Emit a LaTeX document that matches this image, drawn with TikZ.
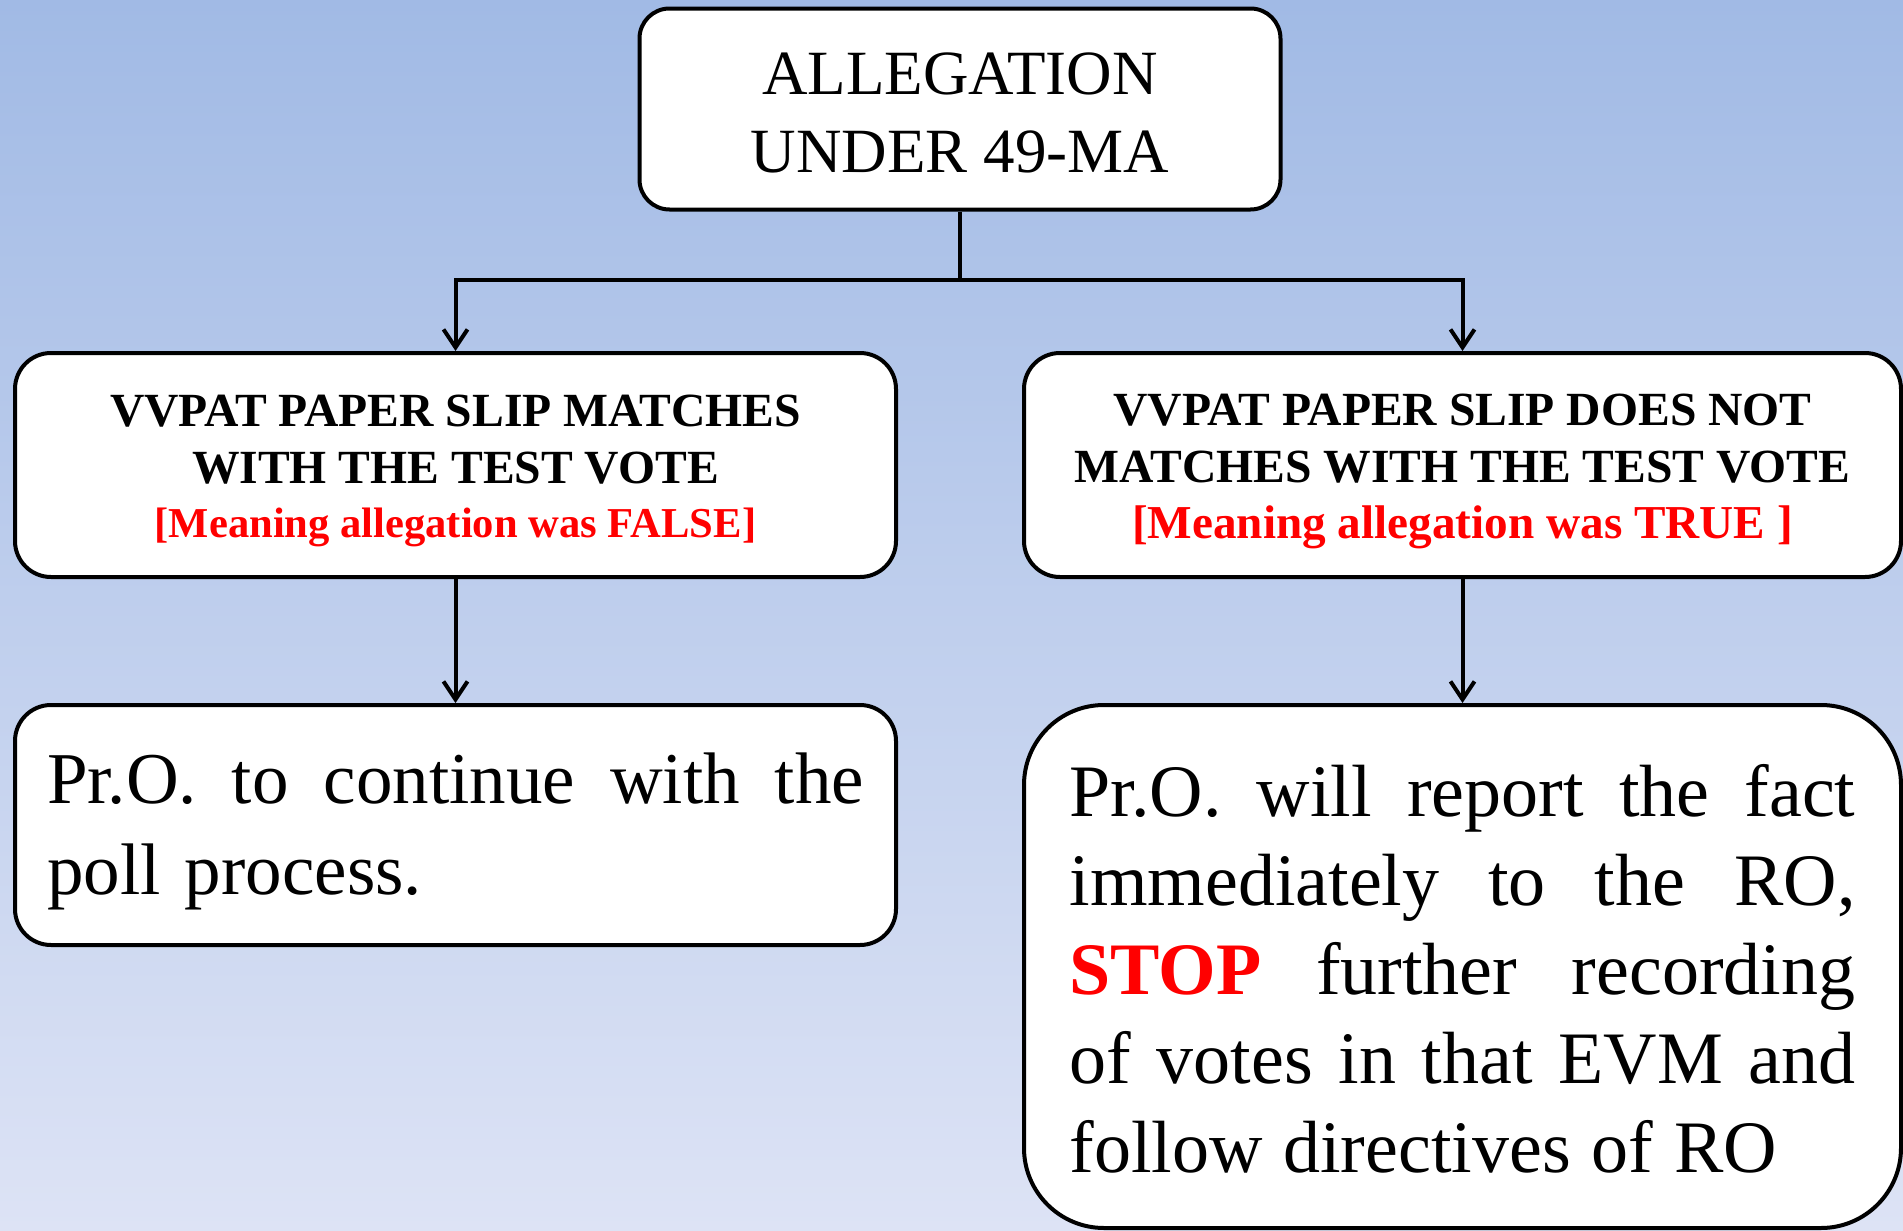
\documentclass[tikz,border=0pt]{standalone}
\usepackage{fontspec}
\setmainfont{Liberation Serif}
\usetikzlibrary{arrows.meta}
\frenchspacing

\definecolor{bgtop}{RGB}{161,186,229}
\definecolor{bgbottom}{RGB}{221,227,245}
\definecolor{alertred}{RGB}{255,0,0}

% one justified line of a box text
\newcommand{\fullline}[2]{\makebox[#1][s]{\spaceskip=0.25em plus 2em\relax #2}}
% tighter word spaces for the last line
\newcommand{\tightwords}{\spaceskip=0.28em plus 0.1em\relax}

\begin{document}
\begin{tikzpicture}[x=0.5pt, y=-0.5pt,
  box/.style={draw, line width=2pt, fill=white, inner sep=0pt, align=center},
  link/.style={line width=2pt},
  arrow/.style={line width=2pt, -{Straight Barb[length=9pt,width=12pt]}}]

% Draw the shaded background
\shade [top color=bgtop, bottom color=bgbottom] (0,0) rectangle (1903,1231);
\useasboundingbox (0,0) rectangle (1903,1231);

% Draw the allegation box
\node [box, rounded corners=15pt, minimum width=320.5pt, minimum height=100.5pt,
  font=\fontsize{31.5}{39}\selectfont] (allegation) at (960,109)
  {\rule{0pt}{24.5pt}ALLEGATION\\UNDER 49-MA};

% Draw the two outcome boxes
\node [box, rounded corners=18pt, minimum width=440.5pt, minimum height=112pt,
  font=\fontsize{23.8}{28.5}\selectfont\bfseries] (matches) at (455.5,465)
  {\rule{0pt}{22pt}VVPAT PAPER SLIP MATCHES\\WITH THE TEST VOTE\\[-1.5pt]{\color{alertred}\fontsize{21.3}{26.5}\selectfont [Meaning allegation was FALSE]}};
\node [box, rounded corners=18pt, minimum width=438.5pt, minimum height=112pt,
  font=\fontsize{23.8}{28.5}\selectfont\bfseries] (nomatch) at (1462.5,465)
  {\rule{0pt}{22pt}VVPAT PAPER SLIP DOES NOT\\MATCHES WITH THE TEST VOTE\\[-0.5pt]{\color{alertred}\fontsize{23.6}{26.5}\selectfont [Meaning allegation was TRUE ]}};

% Draw the action boxes
\node [box, rounded corners=18pt, minimum width=440.5pt, minimum height=120pt,
  text width=408.5pt, align=left, font=\fontsize{36.5}{45.5}\selectfont] (continue) at (455.5,825)
  {\noindent\rule{0pt}{32pt}\fullline{408.5pt}{Pr.O. to continue with the}\\poll process.};
\node [box, rounded corners=40pt, minimum width=438.5pt, minimum height=261.5pt,
  text width=393pt, align=left, font=\fontsize{37}{44.6}\selectfont] (report) at (1462.5,966.5)
  {\noindent\rule{0pt}{28.3pt}\fullline{393pt}{Pr.O. will report the fact}\\
   \fullline{393pt}{immediately to the RO,}\\
   \fullline{393pt}{{\color{alertred}\bfseries STOP} further recording}\\
   \fullline{393pt}{of votes in that EVM and}\\
   {\tightwords follow directives of RO}};

% Draw the connectors
\coordinate (split) at (960,280);
\draw [link] (allegation.south) -- (split);
\draw [arrow] (split) -| (matches.north);
\draw [arrow] (split) -| (nomatch.north);
\draw [arrow] (matches.south) -- (continue.north);
\draw [arrow] (nomatch.south) -- (report.north);

\end{tikzpicture}
\end{document}
